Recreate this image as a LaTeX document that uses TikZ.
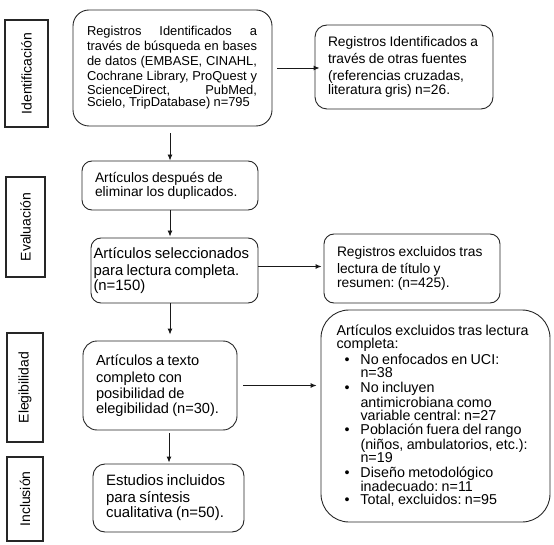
\documentclass[tikz,border=0pt]{standalone}
\usepackage{fontspec}
\setmainfont{Liberation Sans}
\usetikzlibrary{arrows.meta}
\frenchspacing
\newcommand\bulx{\makebox[24pt][l]{\hspace{8pt}•}}
\newcommand\indx{\makebox[24pt][l]{}}
\newcommand\jline[1]{\leavevmode\hbox to 170pt{#1}}
\begin{document}
\begin{tikzpicture}[x=1pt,y=-1pt,
  box/.style={draw=black!85, line width=0.9pt, inner sep=0pt, align=left},
  lab/.style={draw=black!85, line width=1.1pt, inner sep=0pt, rotate=90, font=\fontsize{14}{16}\selectfont},
  arr/.style={draw=black!90, line width=0.9pt, -{Latex[length=6pt,width=5pt]}}]
\useasboundingbox (0,0) rectangle (554,545);
% stage labels
\node[lab, minimum width=107pt, minimum height=43pt] (L1) at (26.5,73.5) {Identificación};
\node[lab, minimum width=100pt, minimum height=39pt] (L2) at (25.5,227) {Evaluación};
\node[lab, minimum width=109pt, minimum height=36pt] (L3) at (25,387.5) {Elegibilidad};
\node[lab, minimum width=84pt, minimum height=36pt] (L4) at (25,499) {Inclusión};
% boxes
\node[box, rounded corners=16pt, minimum width=199pt, minimum height=116pt, text width=171pt] (B1) at (172.5,68)
 {\fontsize{12.9}{14.7}\selectfont
 \jline{Registros\hfill Identificados\hfill a}\\
 \jline{través\hfill de\hfill búsqueda\hfill en\hfill bases}\\
 \jline{de\hfill datos\hfill (EMBASE,\hfill CINAHL,}\\
 \jline{Cochrane\hfill Library,\hfill ProQuest\hfill y}\\
 \jline{ScienceDirect,\hfill PubMed,}\\
 Scielo, TripDatabase) n=795};
\node[box, rounded corners=12pt, minimum width=178pt, minimum height=84pt, text width=152pt] (B2) at (404,67)
 {\fontsize{13.8}{17}\selectfont Registros Identificados a\\ través de otras fuentes\\ (referencias cruzadas,\\ literatura gris) n=26.};
\node[box, rounded corners=10pt, minimum width=176pt, minimum height=49pt, text width=150pt] (B3) at (170,185.5)
 {\fontsize{13.8}{18}\selectfont Artículos después de\\ eliminar los duplicados.};
\node[box, rounded corners=10pt, minimum width=167pt, minimum height=65pt, text width=162pt] (B4) at (174.5,270.5)
 {\fontsize{14.9}{16.7}\selectfont Artículos seleccionados\\ para lectura completa.\\ (n=150)};
\node[box, rounded corners=10pt, minimum width=176pt, minimum height=69pt, text width=150pt] (B5) at (412,268.5)
 {\fontsize{13.8}{16.7}\selectfont Registros excluidos tras\\ lectura de título y\\ resumen: (n=425).};
\node[box, rounded corners=14pt, minimum width=154pt, minimum height=89pt, text width=128pt] (B6) at (160,385.5)
 {\fontsize{14.6}{16.7}\selectfont Artículos a texto\\ completo con\\ posibilidad de\\ elegibilidad (n=30).};
\node[box, rounded corners=28pt, minimum width=229pt, minimum height=212pt, text width=198pt] (B7) at (435.5,416)
 {\fontsize{14.3}{13.2}\selectfont Artículos excluidos tras lectura\\ completa:\\[1.5pt]
 \bulx No enfocados en UCI:\\ \indx n=38\\[1.5pt]
 \bulx No incluyen\\ \indx antimicrobiana como\\ \indx variable central: n=27\\[1.5pt]
 \bulx Población fuera del rango\\ \indx (niños, ambulatorios, etc.):\\ \indx n=19\\[1.5pt]
 \bulx Diseño metodológico\\ \indx inadecuado: n=11\\[1.5pt]
 \bulx Total, excluidos: n=95};
\node[box, rounded corners=12pt, minimum width=151pt, minimum height=68pt, text width=125pt] (B8) at (168.5,498)
 {\fontsize{15}{17}\selectfont Estudios incluidos\\ para síntesis\\ cualitativa (n=50).};
% connectors
\draw[arr] ([yshift=-7pt]B1.south -| B3.north) -- (B3.north);
\draw[arr] ([xshift=5pt]B1.east) -- ([xshift=5pt]B1.east -| B2.west);
\draw[arr, shorten >=1pt] (B3.south) -- (B3.south |- B4.north);
\draw[arr] ([yshift=4pt]B4.east) -- ([yshift=4pt,xshift=-2pt]B4.east -| B5.west);
\draw[arr] (B4.south -| B3.south) -- ([yshift=6pt]B6.north -| B3.south);
\draw[arr, shorten <=6pt, shorten >=4pt] (B6.east) -- (B6.east -| B7.west);
\draw[arr, shorten <=3pt, shorten >=1pt] (B6.south -| 169,0) -- (B8.north -| 169,0);
\end{tikzpicture}
\end{document}
